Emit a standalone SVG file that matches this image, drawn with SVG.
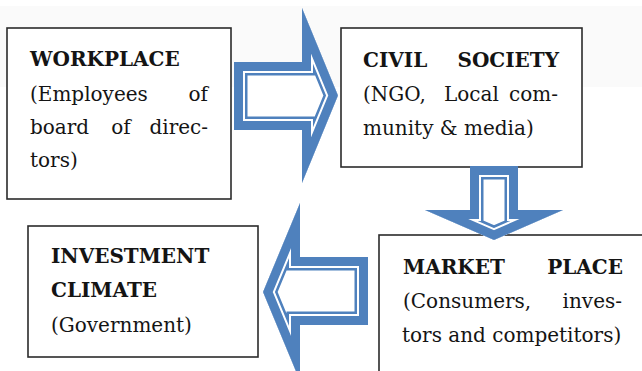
<svg xmlns="http://www.w3.org/2000/svg" width="642" height="371" viewBox="0 0 642 371">
<style>
.box{fill:#fff;stroke:#2b2b2b;stroke-width:1.6}
.t{font-family:"DejaVu Serif","Liberation Serif",serif;font-size:20px;fill:#141414}
.b{font-weight:bold}
.o1{fill:#fff;stroke:#4f81bd;stroke-width:27;stroke-linejoin:miter;stroke-miterlimit:10}
.o2{fill:none;stroke:#fff;stroke-width:22;stroke-linejoin:miter;stroke-miterlimit:10}
.o3{fill:none;stroke:#4f81bd;stroke-width:18;stroke-linejoin:miter;stroke-miterlimit:10}
</style>
<defs>
<path id="arR" d="M234,62 H302 V8 L338,95.5 L302,183 V130 H234 Z"/>
<path id="arD" d="M470,166 H518 V210 H563 L494,240 L425,210 H470 Z"/>
<path id="arL" d="M368,257 H300 V203 L263,292 L300,381 V325 H368 Z"/>
<clipPath id="cR"><use href="#arR"/></clipPath>
<clipPath id="cD"><use href="#arD"/></clipPath>
<clipPath id="cL"><use href="#arL"/></clipPath>
</defs>
<rect x="0" y="0" width="642" height="371" fill="#fff"/>
<rect x="0" y="6" width="642" height="81" fill="#fafafa"/>

<g id="workplace">
<rect class="box" x="7" y="28" width="224" height="171"/>
<text class="t b" x="30" y="66">WORKPLACE</text>
<text class="t" x="30" y="101">(Employees</text>
<text class="t" x="208" y="101" text-anchor="end">of</text>
<text class="t" x="30" y="134">board</text>
<text class="t" x="121" y="134" text-anchor="middle">of</text>
<text class="t" x="208" y="134" text-anchor="end">direc-</text>
<text class="t" x="30" y="167">tors)</text>
</g>

<g id="civil-society">
<rect class="box" x="341" y="28" width="241" height="139"/>
<text class="t b" x="363" y="67">CIVIL</text>
<text class="t b" x="559" y="67" text-anchor="end">SOCIETY</text>
<text class="t" x="363" y="101">(NGO,</text>
<text class="t" x="444" y="101">Local</text>
<text class="t" x="558" y="101" text-anchor="end">com-</text>
<text class="t" x="363" y="135">munity &amp; media)</text>
</g>

<g id="market-place">
<rect class="box" x="379" y="235" width="300" height="160"/>
<text class="t b" x="403" y="274">MARKET</text>
<text class="t b" x="623" y="274" text-anchor="end">PLACE</text>
<text class="t" x="403" y="308">(Consumers,</text>
<text class="t" x="622" y="308" text-anchor="end">inves-</text>
<text class="t" x="402" y="342">tors and competitors)</text>
</g>

<g id="investment-climate">
<rect class="box" x="28" y="226" width="230" height="131"/>
<text class="t b" x="51" y="263">INVESTMENT</text>
<text class="t b" x="51" y="297">CLIMATE</text>
<text class="t" x="51" y="332">(Government)</text>
</g>

<g id="connectors">
<g clip-path="url(#cR)">
<use href="#arR" class="o1"/>
<use href="#arR" class="o2"/>
<use href="#arR" class="o3"/>
</g>
<g clip-path="url(#cD)">
<use href="#arD" class="o1"/>
<use href="#arD" class="o2"/>
<use href="#arD" class="o3"/>
</g>
<g clip-path="url(#cL)">
<use href="#arL" class="o1"/>
<use href="#arL" class="o2"/>
<use href="#arL" class="o3"/>
</g>
</g>
</svg>
